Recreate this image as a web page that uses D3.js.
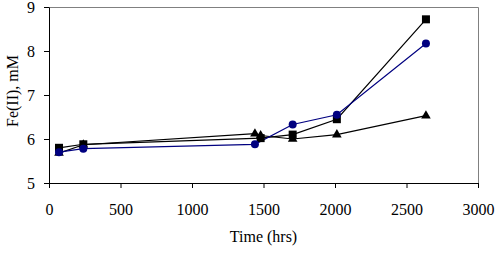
<!DOCTYPE html>
<html>
<head>
<meta charset="utf-8">
<script src="https://cdn.jsdelivr.net/npm/d3@7"></script>
<style>
body { margin: 0; background: #fff; }
</style>
</head>
<body>
<div id="chart"></div>
<script>
// data
var squareTime = [70, 240, 1480, 1704, 2013, 2636];
var squareFe = [5.8, 5.88, 6.02, 6.1, 6.45, 8.72];

var circleTime = [70, 240, 1440, 1704, 2013, 2636];
var circleFe = [5.7, 5.78, 5.88, 6.33, 6.55, 8.17];

var triTime = [70, 240, 1440, 1480, 1704, 2013, 2636];
var triFe = [5.68, 5.87, 6.12, 6.08, 6.0, 6.1, 6.53];

var xTicks = [0, 500, 1000, 1500, 2000, 2500, 3000];
var yTicks = [5, 6, 7, 8, 9];

var FONT = "'Liberation Serif', 'Times New Roman', serif";

var svgWidth = 496;
var svgHeight = 259;
var margin = { top: 7, right: 18, bottom: 76, left: 49 };
var chartWidth = svgWidth - margin.left - margin.right;
var chartHeight = svgHeight - margin.top - margin.bottom;

var svg = d3.select("#chart").append("svg")
    .attr("width", svgWidth)
    .attr("height", svgHeight)
    .style("font-family", FONT)
    .style("font-size", "16px");

var chartGroup = svg.append("g")
    .attr("transform", `translate(${margin.left}, ${margin.top})`);

var x = d3.scaleLinear().domain([0, 3000]).range([0, chartWidth]);
var y = d3.scaleLinear().domain([5, 9]).range([chartHeight, 0]);

// grey frame on top and right
chartGroup.append("path")
    .attr("d", `M0,0.5H${chartWidth + 0.5}V${chartHeight}`)
    .attr("fill", "none")
    .attr("stroke", "#808080")
    .attr("stroke-width", 1);

var xAxis = chartGroup.append("g")
    .attr("transform", `translate(0,${chartHeight})`)
    .call(d3.axisBottom(x).tickValues(xTicks).tickFormat(d3.format("d"))
        .tickSize(5).tickPadding(16).tickSizeOuter(0));

var yAxis = chartGroup.append("g")
    .call(d3.axisLeft(y).tickValues(yTicks).tickFormat(d3.format("d"))
        .tickSize(5).tickPadding(9).tickSizeOuter(0));

[xAxis, yAxis].forEach(function (ax) {
    ax.attr("font-family", null).attr("font-size", null);
    ax.selectAll("path, line").attr("stroke", "#000");
    ax.selectAll("text")
        .style("font-family", FONT)
        .style("font-size", "16px")
        .attr("fill", "#000");
});
yAxis.selectAll("text").attr("dy", "0.34em");

function series(times, vals) {
    return times.map((t, i) => ({ t: t, v: vals[i] }));
}

var line = d3.line().x(d => x(d.t)).y(d => y(d.v));

var squares = series(squareTime, squareFe);
var circles = series(circleTime, circleFe);
var tris = series(triTime, triFe);

chartGroup.append("path").datum(tris)
    .attr("d", line).attr("fill", "none").attr("stroke", "#000").attr("stroke-width", 1.2);
chartGroup.append("path").datum(squares)
    .attr("d", line).attr("fill", "none").attr("stroke", "#000").attr("stroke-width", 1.2);
chartGroup.append("path").datum(circles)
    .attr("d", line).attr("fill", "none").attr("stroke", "#000080").attr("stroke-width", 1.2);

chartGroup.selectAll(".tri").data(tris).enter().append("path")
    .attr("class", "tri")
    .attr("d", d3.symbol().type(d3.symbolTriangle).size(40))
    .attr("transform", d => `translate(${x(d.t)},${y(d.v)})`)
    .attr("fill", "#000");

chartGroup.selectAll(".sq").data(squares).enter().append("rect")
    .attr("class", "sq")
    .attr("x", d => x(d.t) - 4)
    .attr("y", d => y(d.v) - 4)
    .attr("width", 8)
    .attr("height", 8)
    .attr("fill", "#000");

chartGroup.selectAll(".circ").data(circles).enter().append("circle")
    .attr("class", "circ")
    .attr("cx", d => x(d.t))
    .attr("cy", d => y(d.v))
    .attr("r", 4)
    .attr("fill", "#000080");

svg.append("text")
    .attr("x", margin.left + chartWidth / 2)
    .attr("y", 242)
    .attr("text-anchor", "middle")
    .text("Time (hrs)");

svg.append("text")
    .attr("transform", `translate(18, 91) rotate(-90)`)
    .attr("text-anchor", "middle")
    .text("Fe(II), mM");
</script>
</body>
</html>
